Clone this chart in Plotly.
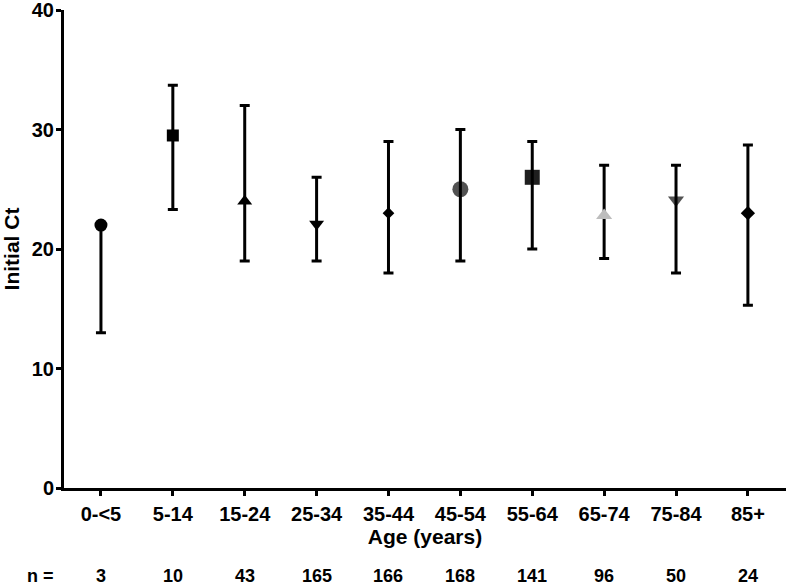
import plotly.graph_objects as go

categories = ["0-<5", "5-14", "15-24", "25-34", "35-44", "45-54", "55-64", "65-74", "75-84", "85+"]
median_ct = [22.0, 29.5, 24.0, 22.1, 23.0, 25.0, 26.0, 22.8, 24.1, 23.0]
upper_ct = [22.0, 33.7, 32.0, 26.0, 29.0, 30.0, 29.0, 27.0, 27.0, 28.7]
lower_ct = [13.0, 23.3, 19.0, 19.0, 18.0, 19.0, 20.0, 19.2, 18.0, 15.3]
n_counts = ["3", "10", "43", "165", "166", "168", "141", "96", "50", "24"]

symbols = ["circle", "square", "triangle-up", "triangle-down", "diamond",
           "circle", "square", "triangle-up", "triangle-down", "diamond"]
sizes = [13, 12, 13, 13, 9, 16, 15, 14, 14, 11]
colors = ["black", "black", "black", "black", "black",
          "rgba(0,0,0,0.68)", "rgba(0,0,0,0.88)", "#bdbdbd",
          "rgba(0,0,0,0.68)", "black"]

xs = list(range(len(categories)))
err_plus = [u - m for u, m in zip(upper_ct, median_ct)]
err_minus = [m - l for m, l in zip(median_ct, lower_ct)]

FONT = "Liberation Sans, Arial, sans-serif"

fig = go.Figure()
# error bars (drawn first, markers drawn on top)
fig.add_trace(go.Scatter(
    x=xs, y=median_ct, mode="markers",
    marker=dict(size=1, color="rgba(0,0,0,0)"),
    error_y=dict(type="data", symmetric=False, array=err_plus, arrayminus=err_minus,
                 color="black", thickness=3, width=5),
    showlegend=False, hoverinfo="skip",
))
fig.add_trace(go.Scatter(
    x=xs, y=median_ct, mode="markers",
    marker=dict(symbol=symbols, size=sizes, color=colors, opacity=1, line=dict(width=0)),
    showlegend=False,
))

NY = -0.184
annotations = [dict(x=-0.032, y=NY, xref="paper", yref="paper", text="n =",
                    showarrow=False, xanchor="center", yanchor="middle",
                    font=dict(family=FONT, size=18, color="black", weight="bold"))]
for i, n in enumerate(n_counts):
    annotations.append(dict(x=i, y=NY, xref="x", yref="paper", text=n,
                            showarrow=False, xanchor="center", yanchor="middle",
                            font=dict(family=FONT, size=18, color="black", weight="bold")))

fig.update_layout(
    width=789, height=585,
    margin=dict(l=64, r=3, t=10, b=97, autoexpand=False),
    plot_bgcolor="white", paper_bgcolor="white",
    font=dict(family=FONT, size=20, color="black", weight="bold"),
    xaxis=dict(
        tickmode="array", tickvals=xs, ticktext=categories,
        range=[-0.514, 9.53], showgrid=False, zeroline=False,
        showline=True, linecolor="black", linewidth=3,
        ticks="outside", ticklen=5, tickwidth=3, tickcolor="black",
        tickfont=dict(size=20, weight="bold"), ticklabelstandoff=1,
        automargin=True,
        title=dict(text="Age (years)", font=dict(size=21, weight="bold"), standoff=6),
    ),
    yaxis=dict(
        range=[0, 40], dtick=10, showgrid=False, zeroline=False,
        showline=True, linecolor="black", linewidth=3,
        ticks="outside", ticklen=5, tickwidth=3, tickcolor="black",
        tickfont=dict(size=20, weight="bold"), ticklabeloverflow="allow",
        ticklabelstandoff=-2,
        title=dict(text="Initial Ct", font=dict(size=21, weight="bold"), standoff=10),
    ),
    annotations=annotations,
)

fig.write_html("out.html", config={"displayModeBar": False},
               post_script="document.body.style.margin='0px';")
